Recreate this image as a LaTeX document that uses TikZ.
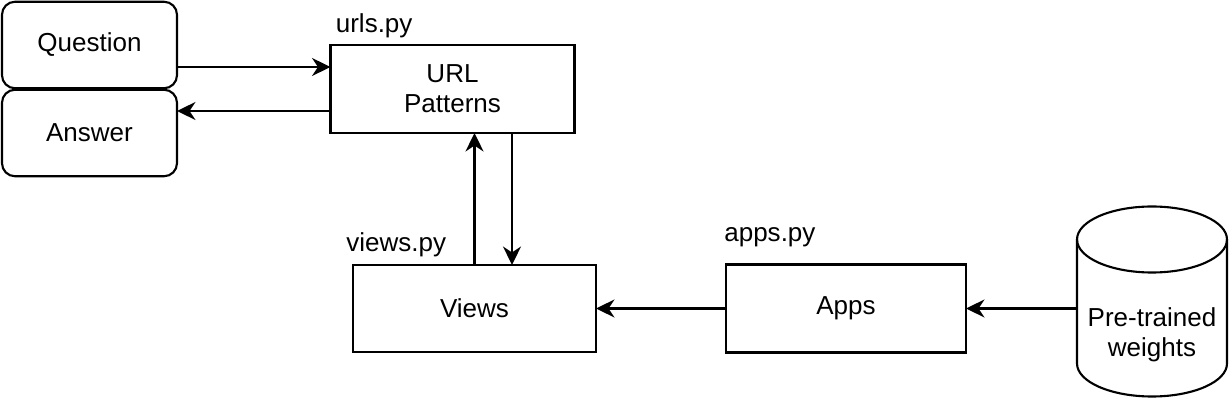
\documentclass[tikz,border=0pt]{standalone}
\usepackage{fontspec}
\setmainfont{Liberation Sans}
\usetikzlibrary{shapes.geometric,arrows.meta,positioning,calc}

\begin{document}
\begin{tikzpicture}[
    box/.style={rectangle, draw=black, fill=white, text centered, align=center, line width=1.2pt, outer sep=0pt, inner sep=0pt, font=\fontsize{14.8}{17.1}\selectfont},
    io/.style={box, rounded corners=0.26cm, minimum width=3.5cm, minimum height=1.73cm},
    store/.style={rectangle, align=center, outer sep=0pt, inner sep=0pt, minimum width=3cm, minimum height=2.48cm, font=\fontsize{14.8}{17.1}\selectfont},
    rim/.style={draw=black, line width=1.2pt, x radius=1.5cm, y radius=0.66cm},
    file/.style={anchor=base west, inner sep=0pt, font=\fontsize{14.8}{17.1}\selectfont},
    arrow/.style={-{Stealth[length=0.37cm, width=0.36cm, inset=0.12cm]}, line width=1.2pt}
]
\useasboundingbox (0,0) rectangle (24.6,-8.18);

\node[io] (question) at (1.79,-0.9) {Question};
\node[io, below=0.03cm of question] (answer) {Answer};

\node[box, minimum width=4.88cm, minimum height=1.76cm] (urls) at (9.05,-1.78) {URL\\Patterns};
\node[box, minimum width=4.86cm, minimum height=1.74cm, below=2.64cm of urls, xshift=0.44cm] (views) {Views};
\node[box, minimum width=4.8cm, minimum height=1.76cm, right=2.6cm of views] (apps) {Apps};
\node[store, right=2.22cm of apps, yshift=-0.52cm] (weights) {Pre-trained\\weights};

\draw[rim] ([yshift=0.66cm]weights.north west) -- ([yshift=0.66cm]weights.south west)
    arc[start angle=180, end angle=360] -- ([yshift=0.66cm]weights.north east)
    arc[start angle=0, end angle=180] -- cycle;
\draw[rim] ([yshift=0.66cm]weights.north west) arc[start angle=180, end angle=360];

\node[file] (urls-file) at ([xshift=0.1cm, yshift=0.24cm]urls.north west) {urls.py};
\node[file] (views-file) at ([xshift=-0.14cm, yshift=0.26cm]views.north west) {views.py};
\node[file] (apps-file) at ([xshift=-0.04cm, yshift=0.46cm]apps.north west) {apps.py};

\coordinate (q-out) at ([yshift=-0.44cm]question.east);
\coordinate (u-back) at ([yshift=-0.44cm]urls.west);
\coordinate (u-down) at ([xshift=1.19cm]urls.south);

\draw[arrow] (q-out) -- (q-out -| urls.west);
\draw[arrow] (u-back) -- (u-back -| answer.east);
\draw[arrow] (views.north) -- (views.north |- urls.south);
\draw[arrow] (u-down) -- (u-down |- views.north);
\draw[arrow] (apps.west) -- (views.east);
\draw[arrow] (apps.east -| weights.west) -- (apps.east);
\end{tikzpicture}
\end{document}
